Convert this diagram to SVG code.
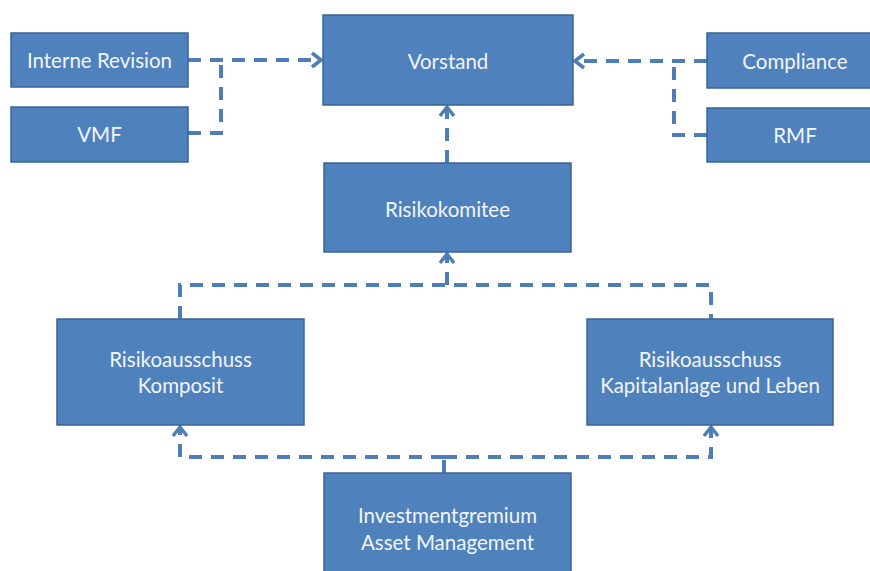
<svg xmlns="http://www.w3.org/2000/svg" width="870" height="571" viewBox="0 0 870 571">
<defs>
<style>
.box{fill:#4F81BD;stroke:#3A6495;stroke-width:1.5}
.t{font-family:Lato,"Open Sans","Liberation Sans",sans-serif;font-size:20.5px;fill:#F2F5FA;text-anchor:middle;dominant-baseline:central}
.c{fill:none;stroke:#4F7DB5;stroke-width:4;stroke-dasharray:13 9}
</style>
<marker id="ah" markerUnits="userSpaceOnUse" markerWidth="20" markerHeight="20" viewBox="-12 -10 14 20" refX="0" refY="0" orient="auto">
<path d="M-9,-7 L0,0 L-9,7" fill="none" stroke="#4F7DB5" stroke-width="3.5" stroke-linejoin="miter"/>
</marker>
</defs>
<rect width="870" height="571" fill="#fff"/>
<g id="connectors">
<path class="c" d="M188,60 H321" marker-end="url(#ah)"/>
<path class="c" d="M188,133 H221 V60"/>
<path class="c" d="M707,61 H575" marker-end="url(#ah)"/>
<path class="c" d="M707,135 H674 V61"/>
<path class="c" d="M447,163 V107" marker-end="url(#ah)"/>
<path class="c" d="M180,319 V285 H711 V319"/>
<path class="c" d="M447,285 V254" marker-end="url(#ah)"/>
<path class="c" d="M444,473 V457"/>
<path class="c" d="M444,457 H180 V427" marker-end="url(#ah)"/>
<path class="c" d="M444,457 H711 V427" marker-end="url(#ah)"/>
</g>
<g id="interne-revision"><rect class="box" x="11" y="33" width="177" height="54"/><text class="t" x="99.5" y="60">Interne Revision</text></g>
<g id="vmf"><rect class="box" x="11" y="107" width="177" height="55"/><text class="t" x="99.5" y="134">VMF</text></g>
<g id="vorstand"><rect class="box" x="323" y="15" width="250" height="90"/><text class="t" x="448" y="61">Vorstand</text></g>
<g id="compliance"><rect class="box" x="707" y="33" width="176" height="55"/><text class="t" x="795" y="61">Compliance</text></g>
<g id="rmf"><rect class="box" x="707" y="108" width="176" height="54"/><text class="t" x="795" y="135">RMF</text></g>
<g id="risikokomitee"><rect class="box" x="324" y="163" width="247" height="89"/><text class="t" x="447.5" y="209">Risikokomitee</text></g>
<g id="komposit"><rect class="box" x="57" y="319" width="247" height="106"/><text class="t" x="180.5" y="359">Risikoausschuss</text><text class="t" x="180.5" y="385">Komposit</text></g>
<g id="kapitalanlage"><rect class="box" x="587" y="319" width="246" height="106"/><text class="t" x="710" y="359">Risikoausschuss</text><text class="t" x="710" y="385">Kapitalanlage und Leben</text></g>
<g id="investment"><rect class="box" x="324" y="473" width="247" height="110"/><text class="t" x="447.5" y="515">Investmentgremium</text><text class="t" x="447.5" y="542">Asset Management</text></g>
</svg>
